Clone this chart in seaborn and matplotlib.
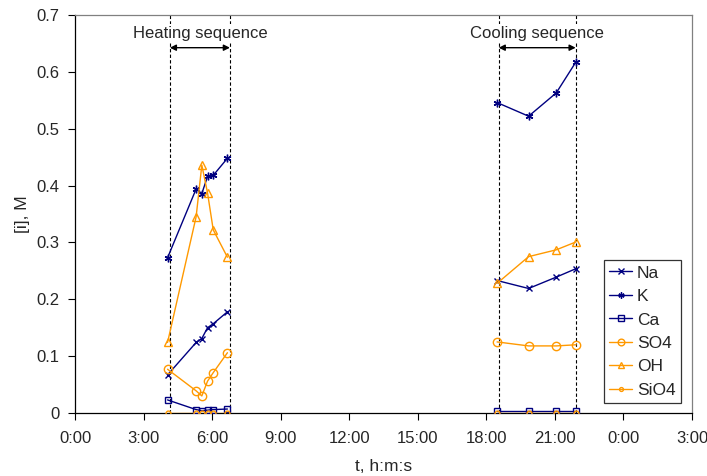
import numpy as np
import pandas as pd
import matplotlib
matplotlib.use("Agg")
import matplotlib.pyplot as plt
from matplotlib.lines import Line2D
import seaborn as sns

# ---- data (time in hours since 0:00 of day 1) ----
t_heat = [4.05, 5.30, 5.55, 5.80, 6.05, 6.67]
t_cool = [18.47, 19.85, 21.06, 21.93]

na_heat = [0.067, 0.124, 0.131, 0.150, 0.157, 0.178]
na_cool = [0.233, 0.219, 0.239, 0.254]
k_heat = [0.273, 0.394, 0.386, 0.416, 0.418, 0.448]
k_cool = [0.546, 0.522, 0.563, 0.618]
ca_heat = [0.023, 0.006, 0.004, 0.005, 0.006, 0.007]
ca_cool = [0.004, 0.004, 0.004, 0.004]
so4_heat = [0.077, 0.039, 0.030, 0.056, 0.071, 0.106]
so4_cool = [0.125, 0.118, 0.118, 0.120]
oh_heat = [0.124, 0.345, 0.436, 0.387, 0.322, 0.274]
oh_cool = [0.228, 0.275, 0.287, 0.301]
sio4_heat = [0.0, 0.0, 0.0, 0.0, 0.0, 0.0]
sio4_cool = [0.0, 0.0, 0.0, 0.0]

ions = ["Na", "K", "Ca", "SO4", "OH", "SiO4"]
heat_vals = [na_heat, k_heat, ca_heat, so4_heat, oh_heat, sio4_heat]
cool_vals = [na_cool, k_cool, ca_cool, so4_cool, oh_cool, sio4_cool]

heat_bounds = [4.15, 6.78]
cool_bounds = [18.54, 21.91]
x_ticks = list(range(0, 28, 3))
x_ticklabels = [f"{h % 24}:00" for h in x_ticks]
y_ticks = [0, 0.1, 0.2, 0.3, 0.4, 0.5, 0.6, 0.7]
y_ticklabels = ["0", "0.1", "0.2", "0.3", "0.4", "0.5", "0.6", "0.7"]

rows = []
for ion, hv, cv in zip(ions, heat_vals, cool_vals):
    for t, v in zip(t_heat, hv):
        rows.append((ion, "heat", t, v))
    for t, v in zip(t_cool, cv):
        rows.append((ion, "cool", t, v))
df = pd.DataFrame(rows, columns=["ion", "seg", "t", "conc"])

# ---- style ----
sns.set_style("ticks")
plt.rcParams["font.family"] = ["Liberation Sans", "DejaVu Sans"]

navy = "#000080"
orange = "#FF9900"
styles = {
    "Na":   dict(color=navy, marker="x", ms=5, mfc="none"),
    "K":    dict(color=navy, marker=(6, 2, 0), ms=5.5, mfc="none"),
    "Ca":   dict(color=navy, marker="s", ms=5, mfc="none"),
    "SO4":  dict(color=orange, marker="o", ms=6, mfc="none"),
    "OH":   dict(color=orange, marker="^", ms=6, mfc="none"),
    "SiO4": dict(color=orange, marker="o", ms=3.5, mfc="none"),
}

fig = plt.figure(figsize=(7.07, 4.76), dpi=100)
ax = fig.add_axes([75 / 707, 63 / 476, 617 / 707, 398 / 476])

for ion in ions:
    st = styles[ion]
    sub = df[df["ion"] == ion]
    sns.lineplot(data=sub, x="t", y="conc", units="seg", estimator=None,
                 sort=False, ax=ax, color=st["color"], marker=st["marker"],
                 markersize=st["ms"], markerfacecolor=st["mfc"],
                 markeredgecolor=st["color"], markeredgewidth=1.0,
                 linewidth=1.0, legend=False, zorder=3)

# dashed sequence boundaries
for xb in heat_bounds + cool_bounds:
    ax.axvline(xb, color="black", linestyle=(0, (3, 2)), linewidth=0.8, zorder=2)

# arrows and labels
arrow_y = 0.6425
text_y = 0.667
for (a, b), lbl in [(heat_bounds, "Heating sequence"), (cool_bounds, "Cooling sequence")]:
    ax.annotate("", xy=(a, arrow_y), xytext=(b, arrow_y),
                arrowprops=dict(arrowstyle="<|-|>", color="black", lw=1.0,
                                shrinkA=0, shrinkB=0, mutation_scale=9),
                zorder=4)
    ax.text((a + b) / 2, text_y, lbl, ha="center", va="center", fontsize=12,
            bbox=dict(facecolor="white", edgecolor="none", pad=1.5), zorder=5)

ax.set_xlim(0, 27)
ax.set_ylim(0, 0.7)
ax.set_xticks(x_ticks)
ax.set_xticklabels(x_ticklabels, fontsize=12)
ax.set_yticks(y_ticks)
ax.set_yticklabels(y_ticklabels, fontsize=12)
ax.tick_params(direction="out", length=5, width=0.8, color="black")
ax.tick_params(axis="x", pad=8)
ax.tick_params(axis="y", pad=6)
ax.set_xlabel("t, h:m:s", fontsize=12.5, labelpad=9)
ax.set_ylabel("[i], M", fontsize=12.5, labelpad=5)

for side in ["left", "bottom"]:
    ax.spines[side].set_color("black")
    ax.spines[side].set_linewidth(0.9)
for side in ["top", "right"]:
    ax.spines[side].set_visible(True)
    ax.spines[side].set_color("#808080")
    ax.spines[side].set_linewidth(0.9)

handles = [Line2D([], [], color=styles[i]["color"], marker=styles[i]["marker"],
                  markersize=styles[i]["ms"] * 0.8, markerfacecolor="none",
                  markeredgecolor=styles[i]["color"], linewidth=1.0) for i in ions]
leg = ax.legend(handles, ions, loc="upper right", bbox_to_anchor=(0.982, 0.384),
                borderaxespad=0, frameon=True, fancybox=False, fontsize=12.5,
                handlelength=1.3, handletextpad=0.3, labelspacing=0.48,
                borderpad=0.3)
leg.get_frame().set_edgecolor("black")
leg.get_frame().set_linewidth(0.9)

fig.savefig("out.png", dpi=100)
